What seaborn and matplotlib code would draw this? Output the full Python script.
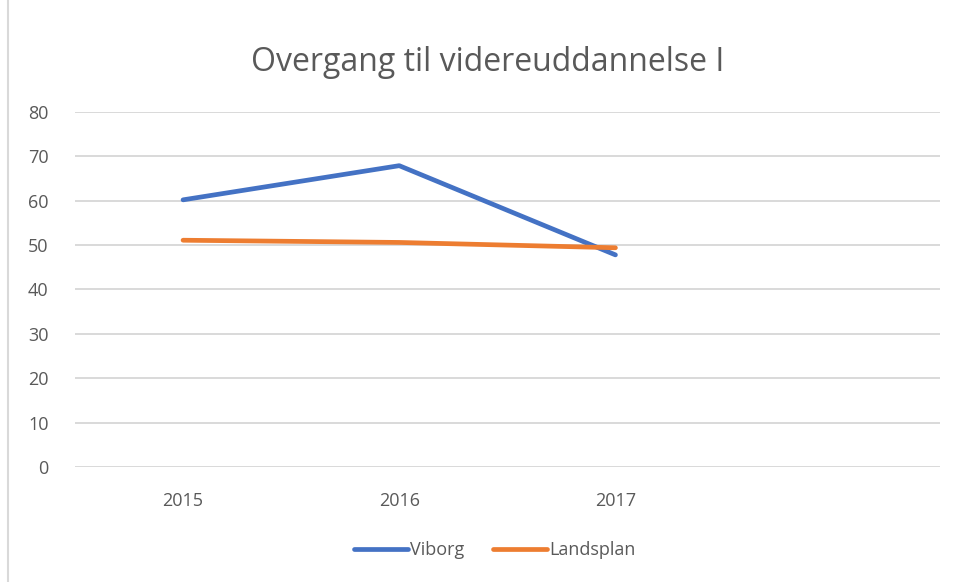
import matplotlib
matplotlib.use("Agg")
import matplotlib.pyplot as plt
import seaborn as sns
import pandas as pd

# data
years = ["2015", "2016", "2017", ""]
viborg = [60.2, 67.9, 47.8, None]
landsplan = [51.1, 50.6, 49.4, None]

df = pd.DataFrame({
    "pos": list(range(len(years))) * 2,
    "value": viborg + landsplan,
    "serie": ["Viborg"] * 4 + ["Landsplan"] * 4,
})

sns.set_style("white")
plt.rcParams["font.family"] = ["Open Sans", "DejaVu Sans"]

fig = plt.figure(figsize=(9.55, 5.82), dpi=100)
ax = fig.add_axes([0.0785, 0.1976, 0.9055, 0.61])

sns.lineplot(data=df, x="pos", y="value", hue="serie",
             palette={"Viborg": "#4472C4", "Landsplan": "#ED7D31"},
             linewidth=3.4, ax=ax, legend=False, zorder=3)
for l in ax.lines:
    l.set_solid_capstyle("round")
    l.set_solid_joinstyle("round")

ax.set_xlim(-0.5, 3.5)
ax.set_ylim(0, 80)
ax.set_yticks(range(0, 81, 10))
ax.set_xticks(range(len(years)))
ax.set_xticklabels(years)
ax.yaxis.grid(True, color="#d9d9d9", linewidth=1.4)
ax.xaxis.grid(False)
for s in ax.spines.values():
    s.set_visible(False)
ax.tick_params(axis="both", length=0, labelsize=13, labelcolor="#595959")
ax.tick_params(axis="x", pad=18)
ax.tick_params(axis="y", pad=19)
ax.set_xlabel("")
ax.set_ylabel("")

fig.text(0.511, 0.893, "Overgang til videreuddannelse I", ha="center", va="center",
         fontsize=23, color="#595959")

# legend
h1 = plt.Line2D([], [], color="#4472C4", linewidth=3.4, solid_capstyle="round")
h2 = plt.Line2D([], [], color="#ED7D31", linewidth=3.4, solid_capstyle="round")
fig.legend([h1, h2], ["Viborg", "Landsplan"], loc="center", bbox_to_anchor=(0.518, 0.055),
           ncol=2, frameon=False, fontsize=13, labelcolor="#595959",
           handlelength=3.0, handletextpad=0.1, columnspacing=1.6)

# light frame line on the left
fig.add_artist(plt.Line2D([8 / 955, 8 / 955], [0, 1], color="#d9d9d9", linewidth=1.5))

fig.savefig("out.png", dpi=100, facecolor="white")
